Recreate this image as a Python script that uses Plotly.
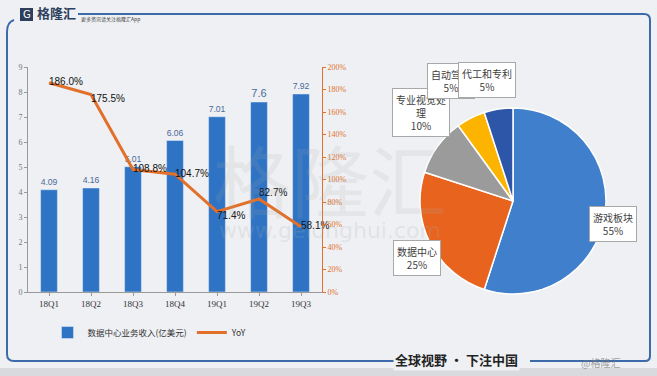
import plotly.graph_objects as go

W, H = 657, 376

quarters = ["18Q1", "18Q2", "18Q3", "18Q4", "19Q1", "19Q2", "19Q3"]
revenue = [4.09, 4.16, 5.01, 6.06, 7.01, 7.6, 7.92]
yoy = [186.0, 175.5, 108.8, 104.7, 71.4, 82.7, 58.1]
yoy_pos = ["middle right", "bottom right", "middle right", "middle right",
           "bottom right", "top right", "middle right"]

segments = ["游戏板块", "数据中心", "专业视觉处理", "自动驾驶", "代工和专利"]
shares = [55, 25, 10, 5, 5]
pie_colors = ["#3f7fcb", "#e8641e", "#9b9b9b", "#fdb400", "#2d56a8"]


def px(x):
    return x / W


def py(y):
    return 1 - y / H


fig = go.Figure()

fig.add_trace(go.Bar(
    x=quarters, y=revenue, name="数据中心业务收入(亿美元)",
    marker_color="#2f74c4", width=0.4,
    text=[f"{v:g}" for v in revenue], textposition="outside",
    textfont=dict(size=11, color="#4a6a9a", family="Liberation Sans Narrow, Arial"),
    cliponaxis=False,
))
fig.add_trace(go.Scatter(
    x=quarters, y=yoy, name="YoY", yaxis="y2", mode="lines+text",
    line=dict(color="#e2702a", width=3),
    text=[f"{v:.1f}%" for v in yoy], textposition=yoy_pos,
    textfont=dict(size=10, color="#111111", family="Liberation Sans Narrow, Arial"),
    cliponaxis=False,
))
fig.add_trace(go.Pie(
    labels=segments, values=shares, sort=False, direction="clockwise",
    rotation=0, textinfo="none", hoverinfo="label+percent",
    marker=dict(colors=pie_colors, line=dict(color="white", width=1.5)),
    domain=dict(x=[px(420), px(606)], y=[py(294), py(108)]),
    showlegend=False,
))

fig.update_layout(
    width=W, height=H,
    margin=dict(l=0, r=0, t=0, b=0, autoexpand=False),
    paper_bgcolor="#eef0f3", plot_bgcolor="rgba(0,0,0,0)",
    font=dict(family="Noto Sans CJK SC, sans-serif", color="#555"),
    xaxis=dict(domain=[px(28), px(322)], showgrid=False, showline=True,
               linecolor="#999", ticks="outside", tickcolor="#999", ticklen=3,
               tickfont=dict(size=9, family="Liberation Serif", color="#333")),
    yaxis=dict(domain=[py(292), py(67)], range=[0, 9], dtick=1, showgrid=False,
               showline=True, linecolor="#999", ticks="outside", tickcolor="#999",
               ticklen=3, zeroline=False,
               tickfont=dict(size=8, family="Liberation Sans Narrow", color="#777")),
    yaxis2=dict(overlaying="y", side="right", anchor="x", range=[0, 200], dtick=20,
                ticksuffix="%", showgrid=False, showline=True, linecolor="#e2702a",
                ticks="outside", tickcolor="#e2702a", ticklen=3, zeroline=False,
                tickfont=dict(size=8, family="Liberation Sans Narrow", color="#e2702a")),
    legend=dict(orientation="h", x=px(150), xanchor="center", y=py(318), yanchor="top",
                font=dict(size=8.5, family="Noto Sans CJK SC", color="#333"),
                bgcolor="rgba(0,0,0,0)", itemwidth=30, tracegroupgap=0),
)

shapes = []
line = dict(color="#3d6aa8", width=2)
# frame
shapes.append(dict(type="path", xref="paper", yref="paper",
                   path=(f"M {px(78)},{py(14)} L {px(644)},{py(14)} "
                         f"Q {px(650)},{py(14)} {px(650)},{py(20)} "
                         f"L {px(650)},{py(356)} Q {px(650)},{py(361)} {px(645)},{py(361)} "
                         f"L {px(530)},{py(361)}"),
                   line=line))
shapes.append(dict(type="path", xref="paper", yref="paper",
                   path=(f"M {px(14)},{py(20)} Q {px(7)},{py(22)} {px(7)},{py(32)} "
                         f"L {px(7)},{py(354)} Q {px(7)},{py(361)} {px(14)},{py(361)} "
                         f"L {px(396)},{py(361)}"),
                   line=line))
# logo square
shapes.append(dict(type="rect", xref="paper", yref="paper",
                   x0=px(20), x1=px(33), y0=py(21), y1=py(8),
                   fillcolor="#2d3f5c", line=dict(width=0)))
# bottom grey band
shapes.append(dict(type="rect", xref="paper", yref="paper",
                   x0=0, x1=1, y0=0, y1=py(368),
                   fillcolor="#d8dadd", line=dict(width=0), layer="below"))

P = dict(xref="paper", yref="paper", showarrow=False, xanchor="center", yanchor="middle")
annotations = [
    dict(text="G", x=px(26.5), y=py(14.5), font=dict(size=10, color="white", family="DejaVu Sans"), **P),
    dict(text="<b>格隆汇</b>", x=px(56), y=py(13),
         font=dict(size=13, color="#2d3f5c", family="Noto Sans CJK SC"), **P),
    dict(text="更多资讯请关注格隆汇App", x=px(110), y=py(19),
         font=dict(size=5, color="#444", family="Noto Sans CJK SC"), **P),
    dict(text="格隆汇", x=px(330), y=py(178), font=dict(size=78, color="rgba(170,170,170,0.15)",
         family="Noto Sans CJK SC"), **P),
    dict(text="www.gelonghui.com", x=px(330), y=py(230), font=dict(size=22, color="rgba(170,170,170,0.2)",
         family="DejaVu Sans"), **P),
    dict(text="<b>全球视野 · 下注中国</b>", x=px(456), y=py(359),
         font=dict(size=13, color="#222", family="Noto Sans CJK SC"),
         bgcolor="#eef0f3", **P),
    dict(text="@格隆汇", x=px(600), y=py(362), font=dict(size=10, color="rgba(120,120,120,0.7)",
         family="Noto Sans CJK SC"), **P),
]

box = dict(bgcolor="white", bordercolor="#a8a8a8", borderwidth=1,
           borderpad=3, font=dict(size=10, color="#404040", family="Noto Sans CJK SC"), **P)
labels = [
    (segments[0] + f"<br>{shares[0]}%", 613, 224),
    (segments[1] + f"<br>{shares[1]}%", 417, 258),
    ("专业视觉处<br>理<br>" + f"{shares[2]}%", 421, 112),
    (segments[3] + f"<br>{shares[3]}%", 451, 81),
    (segments[4] + f"<br>{shares[4]}%", 487, 80),
]
for t, x, y in labels:
    annotations.append(dict(text=t, x=px(x), y=py(y), **box))

fig.update_layout(shapes=shapes, annotations=annotations)
fig.write_html("out.html", config={"displayModeBar": False},
               post_script="document.body.style.margin='0';document.body.style.background='#eef0f3';")
